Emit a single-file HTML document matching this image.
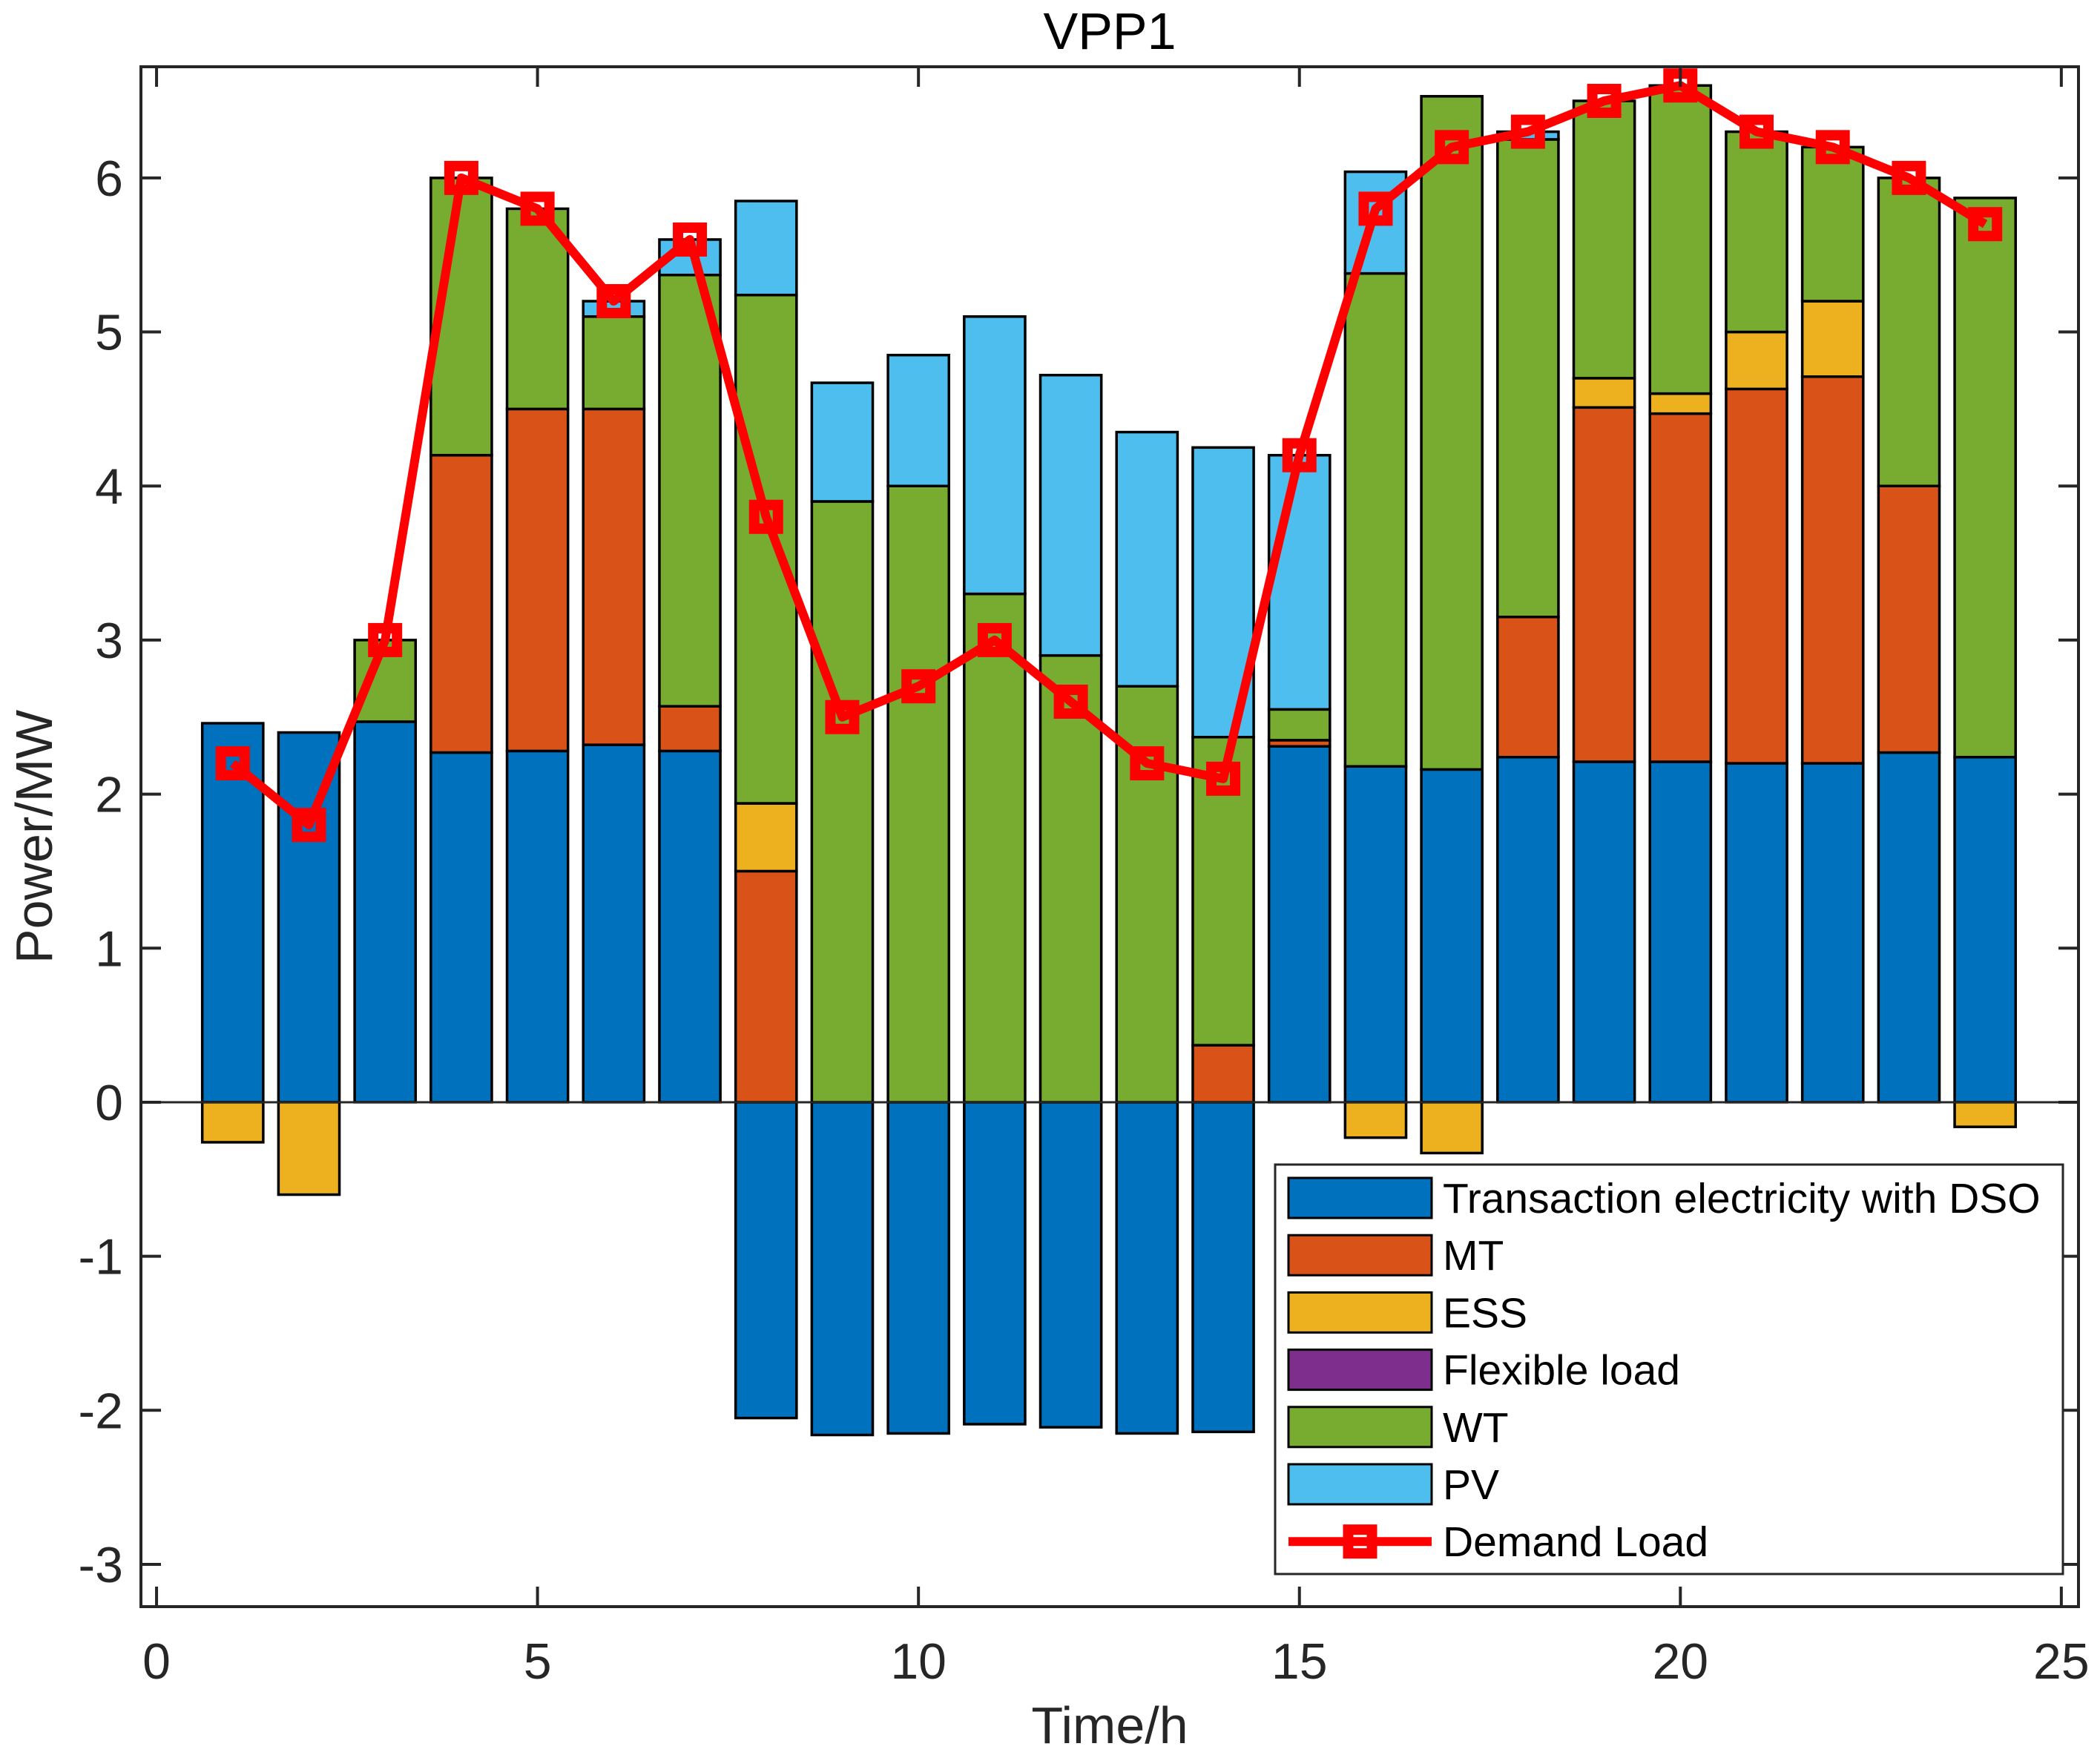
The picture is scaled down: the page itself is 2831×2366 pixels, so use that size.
<!DOCTYPE html>
<html><head><meta charset="utf-8"><style>html,body{margin:0;padding:0;background:#fff}svg{display:block}</style></head>
<body>
<svg id="chart" xmlns="http://www.w3.org/2000/svg" width="2831" height="2366" viewBox="0 0 2831 2366" font-family="Liberation Sans, Arial, sans-serif">
<rect width="2831" height="2366" fill="#fff"/>
<text x="1496" y="66" font-size="70" text-anchor="middle" fill="#000">VPP1</text>
<g id="bars"></g><g id="line"></g><g id="axes"></g><g id="legend"></g>
<text x="1496" y="2350" font-size="70" text-anchor="middle" fill="#262626">Time/h</text>
<text x="0" y="0" font-size="70" text-anchor="middle" fill="#262626" transform="translate(70,1128) rotate(-90)">Power/MW</text>
</svg>
<script>
const hours = [1,2,3,4,5,6,7,8,9,10,11,12,13,14,15,16,17,18,19,20,21,22,23,24];
const dso  = [2.46,2.40,2.47,2.27,2.28,2.32,2.28,-2.05,-2.16,-2.15,-2.09,-2.11,-2.15,-2.14,2.31,2.18,2.16,2.24,2.21,2.21,2.20,2.20,2.27,2.24];
const mt   = [0,0,0,1.93,2.22,2.18,0.29,1.50,0,0,0,0,0,0.37,0.04,0,0,0.91,2.30,2.26,2.43,2.51,1.73,0];
const ess  = [-0.26,-0.60,0,0,0,0,0,0.44,0,0,0,0,0,0,0,-0.23,-0.33,0,0.19,0.13,0.37,0.49,0,-0.16];
const flex = [0,0,0,0,0,0,0,0,0,0,0,0,0,0,0,0,0,0,0,0,0,0,0,0];
const wt   = [0,0,0.53,1.80,1.30,0.60,2.80,3.30,3.90,4.00,3.30,2.90,2.70,2.00,0.20,3.20,4.37,3.10,1.80,2.00,1.30,1.00,2.00,3.63];
const pv   = [0,0,0,0,0,0.10,0.23,0.61,0.77,0.85,1.80,1.82,1.65,1.88,1.65,0.66,0,0.05,0,0,0,0,0,0];
const load = [2.2,1.8,3.0,6.0,5.8,5.2,5.6,3.8,2.5,2.7,3.0,2.6,2.2,2.1,4.2,5.8,6.2,6.3,6.5,6.6,6.3,6.2,6.0,5.7];
const xTicks = [0,5,10,15,20,25];
const yTicks = [-3,-2,-1,0,1,2,3,4,5,6];
const seriesNames = ["Transaction electricity with DSO","MT","ESS","Flexible load","WT","PV"];
const seriesKeys = ["dso","mt","ess","flex","wt","pv"];
const seriesColors = ["#0072BD","#D95319","#EDB120","#7E2F8E","#77AC30","#4DBEEE"];
const series = [dso,mt,ess,flex,wt,pv];

const L=190,R=2802,T=90,B=2166, xmin=-0.2049, xmax=25.2253, ymin=-3.2745, ymax=6.7216;
const X=v=>L+(v-xmin)/(xmax-xmin)*(R-L);
const Y=v=>B-(v-ymin)/(ymax-ymin)*(B-T);
const NS="http://www.w3.org/2000/svg";
function mk(tag,attrs,parent){const e=document.createElementNS(NS,tag);for(const k in attrs)e.setAttribute(k,attrs[k]);parent.appendChild(e);return e;}
const gb=document.getElementById('bars');
const bw=0.8;
hours.forEach((h,i)=>{
  let pos=0,neg=0;
  series.forEach((s,k)=>{
    const v=s[i]; if(v===0) return;
    let y0,y1;
    if(v>0){y0=pos;y1=pos+v;pos=y1;}else{y0=neg;y1=neg+v;neg=y1;}
    const r=mk('rect',{x:X(h-bw/2),y:Y(Math.max(y0,y1)),width:X(h+bw/2)-X(h-bw/2),height:Math.abs(Y(y1)-Y(y0)),fill:seriesColors[k],stroke:'#000','stroke-width':3.5},gb);
    
    
  });
});
const ga=document.getElementById('axes');
let zl=mk('line',{x1:L,x2:R,y1:Y(0),y2:Y(0),stroke:'#262626','stroke-width':3},ga);


let fr=mk('rect',{x:L,y:T,width:R-L,height:B-T,fill:'none',stroke:'#262626','stroke-width':4},ga);


xTicks.forEach(t=>{
  mk('line',{x1:X(t),x2:X(t),y1:B,y2:B-27,stroke:'#262626','stroke-width':4},ga);
  mk('line',{x1:X(t),x2:X(t),y1:T,y2:T+27,stroke:'#262626','stroke-width':4},ga);
  const tx=mk('text',{x:X(t),y:B+97,'font-size':68,'text-anchor':'middle',fill:'#262626'},ga);
  tx.textContent=t;
  
  
});
yTicks.forEach(t=>{
  mk('line',{x1:L,x2:L+27,y1:Y(t),y2:Y(t),stroke:'#262626','stroke-width':4},ga);
  mk('line',{x1:R,x2:R-27,y1:Y(t),y2:Y(t),stroke:'#262626','stroke-width':4},ga);
  const tx=mk('text',{x:L-24,y:Y(t)+24,'font-size':68,'text-anchor':'end',fill:'#262626'},ga);
  tx.textContent=t;
  
  
});
const gl=document.getElementById('line');
const pl=mk('polyline',{points:hours.map((h,i)=>X(h)+','+Y(load[i])).join(' '),fill:'none',stroke:'#FF0000','stroke-width':12,'stroke-linejoin':'round'},gl);


hours.forEach((h,i)=>{
  const m=mk('rect',{x:X(h)-16,y:Y(load[i])-16,width:32,height:32,fill:'none',stroke:'#FF0000','stroke-width':14},gl);
  
  
});
const lg=document.getElementById('legend');
const lb=mk('rect',{x:1719,y:1570,width:1062,height:552,fill:'#fff',stroke:'#262626','stroke-width':3},lg);


const names=seriesNames.concat(["Demand Load"]);
names.forEach((n,i)=>{
  const cy=1615+i*77.2;
  if(i<6){
    const s=mk('rect',{x:1737,y:cy-27,width:193,height:54,fill:seriesColors[i],stroke:'#000','stroke-width':3},lg);
    
    
  } else {
    mk('line',{x1:1737,x2:1930,y1:cy,y2:cy,stroke:'#FF0000','stroke-width':12},lg);
    mk('rect',{x:1817.5,y:cy-16,width:32,height:32,fill:'none',stroke:'#FF0000','stroke-width':14},lg);
  }
  const t=mk('text',{x:1945,y:cy+20,'font-size':57,fill:'#000'},lg);
  t.textContent=n;
  
  
});
</script>
</body></html>
